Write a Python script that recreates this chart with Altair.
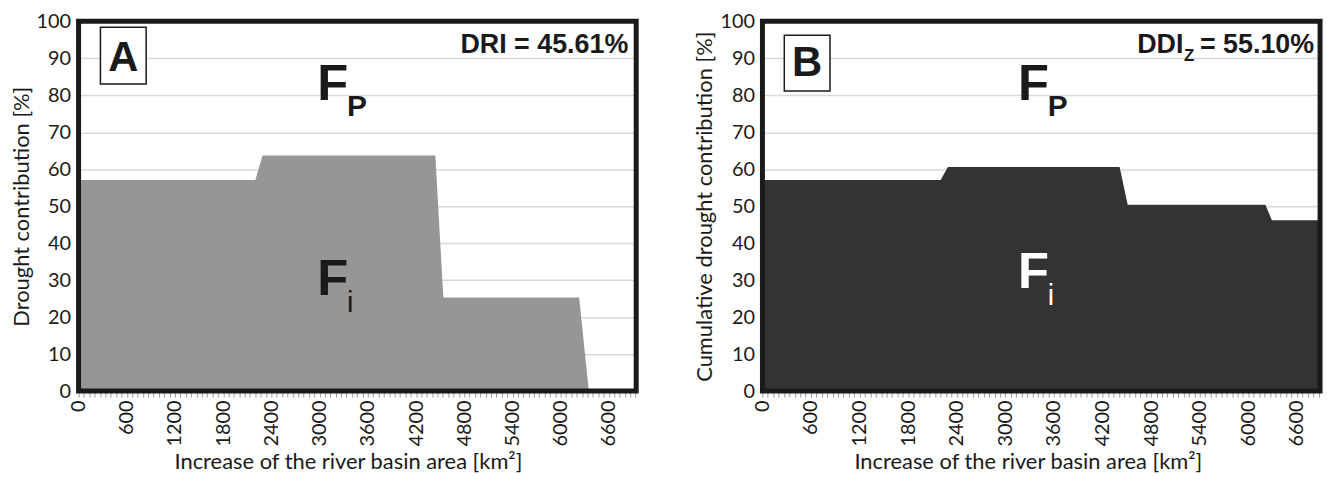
import altair as alt
import pandas as pd

# ---- data ----
area_a = [0, 2200, 2290, 4440, 4540, 6230, 6350]
contrib_a = [57.1, 57.1, 63.7, 63.7, 25.3, 25.3, 0]
area_b = [0, 2200, 2290, 4410, 4510, 6210, 6290, 6885]
contrib_b = [57.1, 57.1, 60.6, 60.6, 50.4, 50.4, 46.2, 46.2]

y_ticks = [0, 10, 20, 30, 40, 50, 60, 70, 80, 90, 100]
x_major_step = 600
x_minor_per_major = 9
x_max = [6940, 6885]

panel_letters = ["A", "B"]
index_names = ["DRI", "DDI"]
index_subscripts = ["", "Z"]
index_values = ["= 45.61%", "= 55.10%"]
y_titles = ["Drought contribution [%]", "Cumulative drought contribution [%]"]
x_title = "Increase of the river basin area [km²]"
fill_colors = ["#969696", "#333333"]
fi_colors = ["#1a1a1a", "#ffffff"]

W, H = 561, 372
FONT = "Lato"
BOLD = "Liberation Sans"
INK = "#1a1a1a"


def txt(text, x, y, size, color=INK, weight="bold", align="left", font=BOLD):
    return alt.Chart(pd.DataFrame({"t": [text]})).mark_text(
        align=align, baseline="alphabetic", fontSize=size, fontWeight=weight,
        font=font, color=color
    ).encode(x=alt.value(x), y=alt.value(y), text="t:N")


def panel(i, xs, ys, box_y0, box_y1, letter_base, f_left, fi_base, title_x):
    df = pd.DataFrame({"area": xs, "contrib": ys})
    xmax = x_max[i]
    step = x_major_step / x_minor_per_major
    n = int(xmax / step)
    tick_vals = [k * step for k in range(n + 1)]
    x_axis = alt.Axis(
        title=x_title, values=tick_vals,
        labelExpr="abs(datum.value/600 - round(datum.value/600)) < 0.01 ? format(round(datum.value), 'd') : ''",
        labelAngle=270, labelOverlap=False, labelFlush=False, labelFont=FONT,
        labelFontSize=20, labelColor=INK, labelPadding=3,
        tickColor="#9a9a9a", tickSize=6, tickWidth=1, domain=False, grid=False,
        titleFont=FONT, titleFontSize=22, titleFontWeight="normal",
        titleColor=INK, titlePadding=5, titleX=title_x,
    )
    y_axis = alt.Axis(
        title=y_titles[i], values=y_ticks, ticks=False, domain=False, grid=True,
        gridColor="#d9d9d9", gridWidth=1.5, labelFont=FONT, labelFontSize=20,
        labelColor=INK, labelPadding=8, titleFont=FONT, titleFontSize=22,
        titleFontWeight="normal", titleColor=INK, titlePadding=3,
    )
    area = alt.Chart(df).mark_area(color=fill_colors[i], opacity=1).encode(
        x=alt.X("area:Q", scale=alt.Scale(domain=[0, xmax], nice=False, zero=True), axis=x_axis),
        y=alt.Y("contrib:Q", scale=alt.Scale(domain=[0, 100], nice=False), axis=y_axis),
    )
    one = pd.DataFrame({"t": [0]})
    frame = alt.Chart(one).mark_rect(fillOpacity=0, stroke=INK, strokeWidth=5).encode(
        x=alt.value(0), x2=alt.value(W), y=alt.value(0), y2=alt.value(H)
    )
    box = alt.Chart(one).mark_rect(fill="white", stroke=INK, strokeWidth=1.5).encode(
        x=alt.value(22), x2=alt.value(68), y=alt.value(box_y0), y2=alt.value(box_y1)
    )
    layers = [area, frame, box,
              txt(panel_letters[i], 45, letter_base, 42, align="center")]
    # index label in the upper right corner
    if index_subscripts[i]:
        layers += [
            txt(index_names[i], 377, 32, 27),
            txt(index_subscripts[i], 424, 40, 17),
            txt(index_values[i], 555, 32, 27, align="right"),
        ]
    else:
        layers += [txt(index_names[i] + " " + index_values[i], 553, 32, 27, align="right")]
    layers += [
        txt("F", f_left, 78.7, 51),
        txt("P", f_left + 30, 95.3, 30),
        txt("F", f_left, fi_base, 51, color=fi_colors[i]),
        txt("i", f_left + 30, fi_base + 17, 29, color=fi_colors[i], weight="normal"),
    ]
    return alt.layer(*layers).properties(width=W, height=H)


pa = panel(0, area_a, contrib_a, 6, 63, 50.3, 240, 275.3, 271)
pb = panel(1, area_b, contrib_b, 14, 70, 55.3, 257, 268.7, 267)

chart = alt.hconcat(pa, pb, spacing=47).properties(
    padding={"left": 1, "top": 1, "right": 0, "bottom": 0}
).configure_view(strokeWidth=0).configure(background="white")

chart.save("out.html", embed_options={"renderer": "svg", "actions": False})
